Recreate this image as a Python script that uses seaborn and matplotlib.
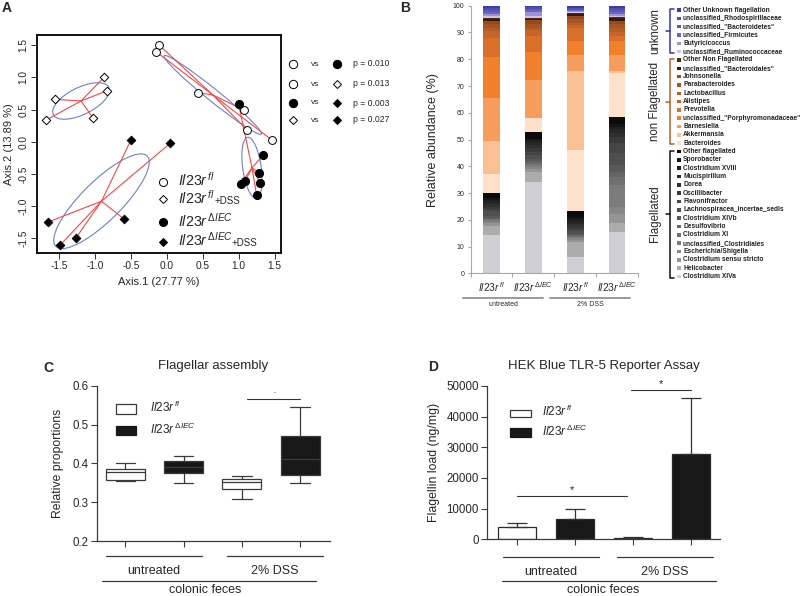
import numpy as np
import pandas as pd
import matplotlib
matplotlib.use('Agg')
import matplotlib.pyplot as plt
import seaborn as sns
from matplotlib.patches import Ellipse, Rectangle

sns.set_theme(style='ticks')
plt.rcParams['font.family'] = ['Liberation Sans', 'DejaVu Sans']
plt.rcParams['mathtext.fontset'] = 'custom'
plt.rcParams['mathtext.rm'] = 'Liberation Sans'
plt.rcParams['mathtext.it'] = 'Liberation Sans:italic'
plt.rcParams['mathtext.bf'] = 'Liberation Sans:bold'
plt.rcParams['mathtext.sf'] = 'Liberation Sans'

# ---------------- Panel A data (PCoA coordinates) ----------------
fl_x = [-0.105, -0.15, 0.44, 1.08, 1.11, 1.46]
fl_y = [1.50, 1.40, 0.76, 0.49, 0.19, 0.03]
fldss_x = [-0.87, -0.84, -1.56, -1.03, -1.68]
fldss_y = [1.01, 0.79, 0.66, 0.37, 0.34]
iec_x = [1.00, 1.34, 1.29, 1.30, 1.09, 1.03, 1.25]
iec_y = [0.58, -0.21, -0.48, -0.64, -0.61, -0.65, -0.83]
iecdss_x = [-0.50, 0.05, -0.60, -1.66, -1.27, -1.49]
iecdss_y = [0.03, -0.02, -1.20, -1.25, -1.50, -1.61]
axis1_label = 'Axis.1 (27.77 %)'
axis2_label = 'Axis.2 (13.89 %)'
pvals = ['p = 0.010', 'p = 0.013', 'p = 0.003', 'p = 0.027']

# ---------------- Panel B data (stacked relative abundance, bottom -> top) ----------------
taxa = ['Clostridium XIVa', 'Helicobacter', 'Clostridium sensu stricto', 'Escherichia/Shigella',
        'unclassified_Clostridiales', 'Clostridium XI', 'Desulfovibrio', 'Clostridium XIVb',
        'Lachnospiracea_incertae_sedis', 'Flavonifractor', 'Oscillibacter', 'Dorea',
        'Mucispirillum', 'Clostridium XVIII', 'Sporobacter', 'Other flagellated',
        'Bacteroides', 'Akkermansia', 'Barnesiella', 'unclassified_"Porphyromonadaceae"',
        'Prevotella', 'Alistipes', 'Lactobacillus', 'Parabacteroides', 'Johnsonella',
        'unclassified_"Bacteroidales"', 'Other Non Flagellated',
        'unclassified_Ruminococcaceae', 'Butyricicoccus', 'unclassified_Firmicutes',
        'unclassified_"Bacteroidetes"', 'unclassified_Rhodospirillaceae', 'Other Unknown flagellation']
abund_fl_untreated = [14.5, 3.3, 1.2, 0.4, 0.6, 0.4, 0.4, 0.6, 2.0, 0.8, 0.8, 0.9, 0.8, 0.6, 0.9, 1.8,
                      7.2, 12.1, 16.1, 15.3, 7.3, 2.5, 1.0, 1.5, 1.2, 0.8, 0.5,
                      0.8, 0.6, 0.6, 0.8, 0.8, 0.9]
abund_iec_untreated = [34.3, 3.7, 1.2, 0.6, 0.7, 0.6, 0.8, 1.0, 1.5, 1.0, 1.4, 1.2, 1.0, 0.8, 0.6, 2.5,
                       5.0, 0.3, 14.1, 10.5, 6.0, 2.0, 1.0, 1.3, 1.4, 0.5, 0.3,
                       1.0, 1.4, 0.6, 0.6, 0.5, 0.6]
abund_fl_dss = [6.0, 5.6, 1.0, 0.5, 0.4, 0.4, 0.4, 0.5, 1.2, 0.8, 0.9, 0.9, 0.8, 0.8, 1.0, 2.3,
                22.5, 29.5, 6.0, 5.5, 4.5, 1.2, 1.0, 1.3, 1.0, 1.0, 0.3,
                0.3, 0.3, 0.4, 0.5, 0.5, 0.7]
abund_iec_dss = [15.6, 3.1, 3.5, 2.7, 8.1, 3.0, 2.0, 2.5, 4.5, 3.6, 2.5, 1.5, 1.2, 1.0, 1.2, 2.3,
                 16.7, 0.5, 6.0, 5.4, 1.7, 1.5, 1.5, 1.6, 1.1, 1.1, 0.4,
                 0.4, 0.6, 0.8, 0.8, 0.8, 0.8]
taxa_colors = ['#cfcfd3', '#acacac', '#959595', '#878787', '#7b7b7b', '#6f6f6f', '#646464', '#595959',
               '#4f4f4f', '#454545', '#393939', '#2f2f2f', '#272727', '#1f1f1f', '#151515', '#0a0a0a',
               '#fde1cb', '#f9c094', '#f69c5c', '#f0802c', '#d96f29', '#c4662b', '#b45d26', '#a55524',
               '#944c1f', '#3a1a06', '#5a2a0c',
               '#cbc4ea', '#9d93d4', '#6c64c2', '#5d5bb9', '#4c4fb0', '#3b3ea2']
bar_labels = [r'$\mathit{Il23r}^{\,\mathit{fl}}$', r'$\mathit{Il23r}^{\,\Delta \mathit{IEC}}$',
              r'$\mathit{Il23r}^{\,\mathit{fl}}$', r'$\mathit{Il23r}^{\,\Delta \mathit{IEC}}$']

# ---------------- Panel C data (box plot five-number summaries) ----------------
box_groups = ['fl untreated', 'IEC untreated', 'fl DSS', 'IEC DSS']
box_genotype = ['fl', 'IEC', 'fl', 'IEC']
box_fl_untreated = [0.355, 0.357, 0.378, 0.385, 0.402]
box_iec_untreated = [0.349, 0.376, 0.390, 0.407, 0.418]
box_fl_dss = [0.309, 0.334, 0.353, 0.359, 0.367]
box_iec_dss = [0.350, 0.370, 0.411, 0.471, 0.545]

# ---------------- Panel D data (flagellin load) ----------------
flag_mean = [4130, 6520, 500, 27700]
flag_err = [1090, 3260, 400, 18280]

genotype_palette = {'fl': 'white', 'IEC': '#181818'}

W, H = 800, 596
fig = plt.figure(figsize=(W / 100, H / 100), dpi=100)


def rect(l, t, r, b):
    return [l / W, 1 - b / H, (r - l) / W, (b - t) / H]


# ================= Panel A =================
axA = fig.add_axes(rect(37, 35, 281, 253))
groupsA = [
    (fl_x, fl_y, 'o', 'white', 32),
    (fldss_x, fldss_y, 'D', 'white', 19),
    (iec_x, iec_y, 'o', 'black', 34),
    (iecdss_x, iecdss_y, 'D', 'black', 19),
]
for gx, gy, mk, fc, sz in groupsA:
    gx = np.asarray(gx); gy = np.asarray(gy)
    cx, cy = gx.mean(), gy.mean()
    cov = np.cov(gx, gy, ddof=1)
    vals, vecs = np.linalg.eigh(cov)
    order = vals.argsort()[::-1]
    vals, vecs = vals[order], vecs[:, order]
    ang = np.degrees(np.arctan2(vecs[1, 0], vecs[0, 0]))
    axA.add_patch(Ellipse((cx, cy), 2 * np.sqrt(vals[0]), 2 * np.sqrt(vals[1]), angle=ang,
                          fill=False, edgecolor='#6f80c6', lw=0.8, zorder=2))
    for xi, yi in zip(gx, gy):
        axA.plot([cx, xi], [cy, yi], color='#f04a4a', lw=0.8, zorder=2)
for gx, gy, mk, fc, sz in groupsA:
    sns.scatterplot(x=gx, y=gy, marker=mk, s=sz, color=fc, edgecolor='black', linewidth=0.7,
                    ax=axA, zorder=3, legend=False)
axA.set_xlim(-1.81, 1.59)
axA.set_ylim(-1.73, 1.66)
ticksA = [-1.5, -1.0, -0.5, 0.0, 0.5, 1.0, 1.5]
axA.set_xticks(ticksA)
axA.set_yticks(ticksA)
axA.set_xticklabels([f'{t:.1f}' for t in ticksA], fontsize=7.3)
axA.set_yticklabels([f'{t:.1f}' for t in ticksA], fontsize=7.3, rotation=90, va='center')
axA.tick_params(direction='out', length=4, width=0.7, color='#333333', pad=2)
for s in axA.spines.values():
    s.set_linewidth(1.3)
    s.set_color('black')
axA.set_xlabel(axis1_label, fontsize=8, labelpad=4)
axA.set_ylabel(axis2_label, fontsize=8, labelpad=3)

# ================= Panel B =================
axB = fig.add_axes(rect(470.5, 5.7, 638, 273.5))
bars = np.array([abund_fl_untreated, abund_iec_untreated, abund_fl_dss, abund_iec_dss])
bottom = np.zeros(4)
for i, taxon in enumerate(taxa):
    axB.bar(np.arange(4), bars[:, i], bottom=bottom, width=0.4, color=taxa_colors[i], linewidth=0)
    bottom += bars[:, i]
axB.set_xlim(-0.5, 3.5)
axB.set_ylim(0, 100)
axB.set_yticks(range(0, 101, 10))
axB.set_yticklabels([str(v) for v in range(0, 101, 10)], fontsize=5)
axB.set_xticks(range(4))
axB.set_xticklabels(bar_labels, fontsize=7.3)
axB.set_xticks([-0.5, 0.5, 1.5, 2.5, 3.5], minor=True)
axB.tick_params(axis='x', which='major', length=0, pad=5)
axB.tick_params(axis='x', which='minor', length=3, color='#a0a0a0', width=0.7)
axB.tick_params(axis='y', length=2.5, color='#a0a0a0', width=0.7, pad=2)
for s in ['top', 'right']:
    axB.spines[s].set_visible(False)
for s in ['left', 'bottom']:
    axB.spines[s].set_color('#a8a8a8')
    axB.spines[s].set_linewidth(0.8)
axB.set_ylabel('Relative abundance (%)', fontsize=9, labelpad=10)

# ================= Panel C =================
axC = fig.add_axes(rect(96.7, 385.7, 330, 541))
box_data = [box_fl_untreated, box_iec_untreated, box_fl_dss, box_iec_dss]
dfC = pd.DataFrame({
    'group': np.repeat(box_groups, 5),
    'genotype': np.repeat(box_genotype, 5),
    'value': np.concatenate(box_data),
})
sns.boxplot(data=dfC, x='group', y='value', hue='genotype', order=box_groups,
            palette=genotype_palette, dodge=False, width=0.67, whis=np.inf,
            linecolor='#3a3a3a', linewidth=0.9, legend=False, ax=axC)
axC.set_xlim(-0.49, 3.51)
axC.set_ylim(0.2, 0.6)
axC.set_yticks([0.2, 0.3, 0.4, 0.5, 0.6])
axC.set_yticklabels(['0.2', '0.3', '0.4', '0.5', '0.6'], fontsize=8.3)
axC.set_xticks(range(4))
axC.set_xticklabels([])
axC.set_xlabel('')
axC.set_ylabel('Relative proportions', fontsize=8.8, labelpad=6)
axC.set_title('Flagellar assembly', fontsize=9.5, pad=12)
axC.plot([2.09, 3.0], [0.566, 0.566], color='#333333', lw=0.8)
axC.text(2.55, 0.568, '\u00b7', ha='center', va='bottom', fontsize=8)

# ================= Panel D =================
axD = fig.add_axes(rect(487.3, 386, 720, 539.3))
sns.barplot(x=box_groups, y=flag_mean, hue=box_genotype, palette=genotype_palette,
            dodge=False, width=0.67, edgecolor='#2a2a2a', linewidth=0.9, errorbar=None,
            legend=False, ax=axD)
axD.errorbar(np.arange(4), flag_mean, yerr=[np.zeros(4), flag_err], fmt='none',
             ecolor='#333333', elinewidth=0.9, capsize=7.5, capthick=0.9)
axD.set_xlim(-0.512, 3.5)
axD.set_ylim(0, 50000)
axD.set_yticks(range(0, 50001, 10000))
axD.set_yticklabels([str(v) for v in range(0, 50001, 10000)], fontsize=8.3)
axD.set_xticks(range(4))
axD.set_xticklabels([])
axD.set_ylabel('Flagellin load (ng/mg)', fontsize=8.8, labelpad=5)
axD.set_title('HEK Blue TLR-5 Reporter Assay', fontsize=9.5, pad=12)
axD.plot([0.0, 1.9], [14100, 14100], color='#333333', lw=0.8)
axD.text(0.95, 14300, '*', ha='center', va='bottom', fontsize=8)
axD.plot([1.97, 3.0], [48700, 48700], color='#333333', lw=0.8)
axD.text(2.48, 48900, '*', ha='center', va='bottom', fontsize=8)

for ax in (axC, axD):
    for s in ['top', 'right']:
        ax.spines[s].set_visible(False)
    for s in ['left', 'bottom']:
        ax.spines[s].set_color('#3a3a3a')
        ax.spines[s].set_linewidth(0.9)
    ax.tick_params(direction='out', length=4, width=0.8, color='#3a3a3a', pad=2)

# ================= Overlay annotations (pixel coordinates) =================
ov = fig.add_axes([0, 0, 1, 1], zorder=10)
ov.set_xlim(0, W)
ov.set_ylim(H, 0)
ov.axis('off')
ov.patch.set_alpha(0)

# panel letters
for lab, (x, y) in zip('ABCD', [(7, 8), (405, 8), (48, 368), (433, 367)]):
    ov.text(x, y, lab, fontsize=10, fontweight='bold', ha='center', va='center')

# Panel A inner legend
fl_lab = r'$\mathit{Il23r}^{\,\mathit{fl}}$'
iec_lab = r'$\mathit{Il23r}^{\,\Delta \mathit{IEC}}$'
legA = [(181.7, 'o', 'white', fl_lab, None),
        (199.3, 'D', 'white', fl_lab, 215),
        (222.3, 'o', 'black', iec_lab, None),
        (241.7, 'D', 'black', iec_lab, 232)]
for y, mk, fc, lab, dssx in legA:
    ov.plot([162.7], [y], marker=mk, markersize=5.8 if mk == 'o' else 4.3, markerfacecolor=fc,
            markeredgecolor='black', markeredgewidth=0.7, linestyle='none')
    ov.text(178, y + 4.5, lab, fontsize=10.3, ha='left', va='baseline')
    if dssx is not None:
        ov.text(dssx, y + 4.5, '+DSS', fontsize=7, ha='left', va='baseline')

# Panel A comparison legend
comp = [(('o', 'white'), ('o', 'black')),
        (('o', 'white'), ('D', 'white')),
        (('o', 'black'), ('D', 'black')),
        (('D', 'white'), ('D', 'black'))]
for y, (m1, m2), pv in zip([64, 84, 103, 120], comp, pvals):
    for x, (mk, fc) in zip([293, 337], [m1, m2]):
        ov.plot([x], [y], marker=mk, markersize=6.0 if mk == 'o' else 4.4, markerfacecolor=fc,
                markeredgecolor='black', markeredgewidth=0.7, linestyle='none')
    ov.text(315, y, 'vs', fontsize=6, ha='center', va='center')
    ov.text(353, y, pv, fontsize=6.2, ha='left', va='center')

# Panel B group lines and labels
for x0, x1, lab in [(463, 543, 'untreated'), (550, 630, '2% DSS')]:
    ov.plot([x0, x1], [298, 298], color='#9a9a9a', lw=1.4)
    ov.text((x0 + x1) / 2, 304.5, lab, fontsize=5, ha='center', va='center')

# Panel B legend
for i, taxon in enumerate(taxa[::-1]):
    y = 10 + 8.33 * i
    col = taxa_colors[::-1][i]
    ov.add_patch(Rectangle((677, y - 1.8), 3.6, 3.6, facecolor=col, edgecolor='none'))
    ov.text(683, y, taxon, fontsize=4.8, fontweight='bold', ha='left', va='center', color='#222222')

# Panel B brackets
brackets = [(10, 51.7, '#3636a6', 'unknown'),
            (60, 143.3, '#b5612a', 'non Flagellated'),
            (151.6, 276.6, '#111111', 'Flagellated')]
for y0, y1, col, lab in brackets:
    xm = 670
    ov.plot([xm + 3.5, xm, xm, xm + 3.5], [y0 - 1, y0 - 1, y1 + 1, y1 + 1], color=col, lw=1.1)
    ym = (y0 + y1) / 2
    ov.plot([xm - 4, xm], [ym, ym], color=col, lw=1.1)
    ov.text(655, ym, lab, fontsize=8.3, rotation=90, ha='center', va='center')

# Panel C legend + group labels
ov.add_patch(Rectangle((115.7, 404), 20, 10, facecolor='white', edgecolor='#3a3a3a', lw=0.9))
ov.add_patch(Rectangle((115.7, 425.5), 20.3, 9.5, facecolor='#181818', edgecolor='#181818', lw=0.9))
ov.text(150, 412.5, fl_lab, fontsize=8.5, ha='left', va='baseline')
ov.text(150, 434, iec_lab, fontsize=8.5, ha='left', va='baseline')
for x0, x1, lab in [(106, 202, 'untreated'), (227, 323, '2% DSS')]:
    ov.plot([x0, x1], [556, 556], color='#3a3a3a', lw=0.9)
    ov.text((x0 + x1) / 2, 571, lab, fontsize=9, ha='center', va='center')
ov.plot([102, 316], [581, 581], color='#3a3a3a', lw=0.9)
ov.text(205, 590, 'colonic feces', fontsize=9, ha='center', va='center')

# Panel D legend + group labels
ov.add_patch(Rectangle((510, 410), 21, 7, facecolor='white', edgecolor='#3a3a3a', lw=0.9))
ov.add_patch(Rectangle((510, 428.3), 21, 8.4, facecolor='#181818', edgecolor='#181818', lw=0.9))
ov.text(542, 416.5, fl_lab, fontsize=8.5, ha='left', va='baseline')
ov.text(542, 436, iec_lab, fontsize=8.5, ha='left', va='baseline')
for x0, x1, lab in [(503, 599, 'untreated'), (617, 713, '2% DSS')]:
    ov.plot([x0, x1], [557, 557], color='#3a3a3a', lw=0.9)
    ov.text((x0 + x1) / 2, 572, lab, fontsize=9, ha='center', va='center')
ov.plot([502, 716], [581, 581], color='#3a3a3a', lw=0.9)
ov.text(603, 590, 'colonic feces', fontsize=9, ha='center', va='center')

fig.savefig('out.png', dpi=100)
